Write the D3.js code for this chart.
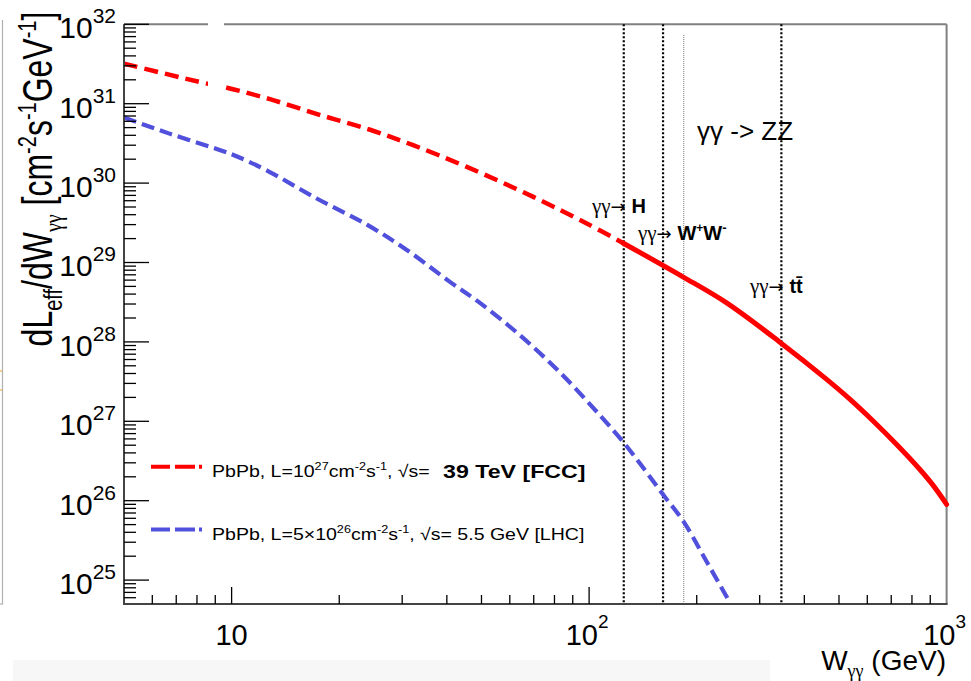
<!DOCTYPE html>
<html>
<head>
<meta charset="utf-8">
<script src="https://cdn.jsdelivr.net/npm/d3@7"></script>
<style>
  html, body { margin: 0; padding: 0; background: #fff; }
  svg { display: block; }
  text { font-family: "Liberation Sans", Arial, Helvetica, sans-serif; fill: #000; }
</style>
</head>
<body>
<svg id="chart" width="971" height="681"></svg>
<script>
// Photon-photon effective luminosity spectra (PbPb), FCC vs LHC
const fccW = [5, 8.3, 9.7, 12.8, 17.7, 24.4, 32.2, 45.5, 69.8, 98.5, 124.7, 183, 242.5, 341, 461, 537, 623, 726, 842, 916, 1000];
const fccL = [3.2e31, 1.84e31, 1.59e31, 1.14e31, 7.2e30, 4.7e30, 3.0e30, 1.6e30, 6.7e29, 3.1e29, 1.75e29, 6.6e28, 3.1e28, 1.0e28, 3.4e27, 1.89e27, 1.01e27, 5.06e26, 2.47e26, 1.57e26, 9.0e25];

const lhcW = [5, 6.7, 9.3, 10.4, 12.6, 17.3, 23.9, 30.9, 40.8, 49.5, 64.1, 83, 107.4, 124.5, 138.8, 160, 184, 213.5, 248];
const lhcL = [6.7e30, 4.2e30, 2.6e30, 2.15e30, 1.43e30, 6.4e29, 3.0e29, 1.44e29, 5.7e28, 3.1e28, 1.21e28, 4.1e27, 1.18e27, 5.5e26, 2.94e26, 1.24e26, 5.4e25, 1.69e25, 5.15e24];

// Production thresholds (GeV): H, W+W-, t tbar, and the ZZ marker
const thresholdW = [125, 161, 345];
const zzW = 184;

const xDomain = [5, 1000];
const yDomain = [5e24, 1e32];
const xMajor = [10, 100, 1000];
const xMajorExp = ["", "2", "3"];
const yExponents = [25, 26, 27, 28, 29, 30, 31, 32];

const svg = d3.select("#chart");
const L = 124, R = 946.6, T = 24.3, B = 604;

const x = d3.scaleLog().domain(xDomain).range([L, R]);
const y = d3.scaleLog().domain(yDomain).range([B, T]);

// helper: text made of runs with super/subscripts
function addRuns(sel, runs) {
  let cur = 0;
  runs.forEach(r => {
    const off = r.shift || 0;
    const ts = sel.append("tspan").attr("dy", off - cur).text(r.t);
    cur = off;
    if (r.size) ts.attr("font-size", r.size);
    if (r.weight) ts.attr("font-weight", r.weight);
    if (r.family) ts.attr("font-family", r.family);
  });
  return sel;
}

// page edge decorations
svg.append("rect").attr("x", 13).attr("y", 660).attr("width", 757).attr("height", 21).attr("fill", "#f7f7f7");
svg.append("line").attr("x1", 2.5).attr("x2", 2.5).attr("y1", 20).attr("y2", 604)
  .attr("stroke", "#b0b0b0").attr("stroke-width", 1.2);
svg.append("line").attr("x1", 0).attr("x2", 3).attr("y1", 604).attr("y2", 604)
  .attr("stroke", "#b0b0b0").attr("stroke-width", 1.2);
[371, 390].forEach(v => svg.append("line").attr("x1", 0).attr("x2", 2).attr("y1", v).attr("y2", v)
  .attr("stroke", "#f0a020").attr("stroke-width", 1));
svg.append("text").attr("x", -13).attr("y", 664).attr("font-size", 24).text("0");

// frame (top/right)
svg.append("line").attr("x1", L).attr("x2", R).attr("y1", T).attr("y2", T).attr("stroke", "#808080").attr("stroke-width", 2);
svg.append("line").attr("x1", R).attr("x2", R).attr("y1", T).attr("y2", B).attr("stroke", "#808080").attr("stroke-width", 2);

// threshold lines
const g = svg.append("g");
g.selectAll("line.thr").data(thresholdW).join("line")
  .attr("class", "thr")
  .attr("x1", d => x(d)).attr("x2", d => x(d))
  .attr("y1", T).attr("y2", B)
  .attr("stroke", "#000").attr("stroke-width", 2.2).attr("stroke-dasharray", "2,2");
g.append("line")
  .attr("x1", x(zzW)).attr("x2", x(zzW)).attr("y1", 35).attr("y2", B)
  .attr("stroke", "#777").attr("stroke-width", 1).attr("stroke-dasharray", "1,1");

// curves
svg.append("clipPath").attr("id", "plotclip").append("rect")
  .attr("x", L).attr("y", T - 4).attr("width", R - L + 6).attr("height", B - T + 4);
const line = d3.line().x(d => x(d[0])).y(d => y(d[1])).curve(d3.curveCatmullRom.alpha(0.5));
const fcc = fccW.map((w, i) => [w, fccL[i]]);
const lhc = lhcW.map((w, i) => [w, lhcL[i]]);
const splitIdx = fccW.indexOf(124.7);
const curves = svg.append("g").attr("clip-path", "url(#plotclip)");
curves.append("path").attr("d", line(lhc)).attr("fill", "none")
  .attr("stroke", "#5050dc").attr("stroke-width", 4.2).attr("stroke-dasharray", "13,6");
curves.append("path").attr("d", line(fcc.slice(0, splitIdx + 1))).attr("fill", "none")
  .attr("stroke", "#ff0000").attr("stroke-width", 4.5).attr("stroke-dasharray", "14,7");
curves.append("path").attr("d", line(fcc.slice(splitIdx))).attr("fill", "none")
  .attr("stroke", "#ff0000").attr("stroke-width", 5).attr("stroke-linecap", "round");

// white patch over top edge
svg.append("rect").attr("x", 208).attr("y", 15).attr("width", 16).attr("height", 80).attr("fill", "#fff");

// axes lines
svg.append("line").attr("x1", L).attr("x2", L).attr("y1", T).attr("y2", B).attr("stroke", "#444").attr("stroke-width", 2);
svg.append("line").attr("x1", L - 1).attr("x2", R + 1).attr("y1", B).attr("y2", B).attr("stroke", "#444").attr("stroke-width", 2);

// y ticks
const yTicks = [];
for (let e = 24; e <= 31; e++) for (let k = 1; k <= 9; k++) {
  const v = k * Math.pow(10, e);
  if (v >= yDomain[0] && v <= yDomain[1]) yTicks.push({ v, major: k === 1 });
}
yTicks.push({ v: 1e32, major: true });
svg.append("g").selectAll("line").data(yTicks).join("line")
  .attr("x1", L).attr("x2", d => L + (d.major ? 25 : 12))
  .attr("y1", d => y(d.v)).attr("y2", d => y(d.v))
  .attr("stroke", "#000").attr("stroke-width", 1.3);

// x ticks
const xTicks = [];
for (let e = 0; e <= 2; e++) for (let k = 1; k <= 9; k++) {
  const v = k * Math.pow(10, e);
  if (v > xDomain[0] && v < xDomain[1]) xTicks.push({ v, major: k === 1 });
}
svg.append("g").selectAll("line").data(xTicks).join("line")
  .attr("x1", d => x(d.v)).attr("x2", d => x(d.v))
  .attr("y1", B).attr("y2", d => B - (d.major ? 17 : 9))
  .attr("stroke", "#000").attr("stroke-width", 1.3);

// y tick labels
yExponents.forEach(e => {
  const t = svg.append("text").attr("x", 116).attr("y", y(Math.pow(10, e)) + 14)
    .attr("text-anchor", "end").attr("font-size", 30);
  addRuns(t, [{ t: "10" }, { t: String(e), shift: -15, size: 21 }]);
});

// x tick labels
xMajor.forEach((v, i) => {
  const t = svg.append("text").attr("x", x(v) + (i ? -2 : 0)).attr("y", 645)
    .attr("text-anchor", "middle").attr("font-size", 29);
  const runs = [{ t: "10" }];
  if (xMajorExp[i]) runs.push({ t: xMajorExp[i], shift: -17, size: 19 });
  addRuns(t, runs);
});

// axis titles
const xt = svg.append("text").attr("x", 946).attr("y", 670).attr("text-anchor", "end").attr("font-size", 28);
addRuns(xt, [{ t: "W" }, { t: "γγ", shift: 7, size: 18, family: "Liberation Serif, serif" }, { t: " (GeV)" }]);

const yt = svg.append("text").attr("transform", "translate(52,179) scale(1.3,1) rotate(-90)")
  .attr("text-anchor", "middle").attr("font-size", 32);
addRuns(yt, [
  { t: "dL" }, { t: "eff", shift: 8, size: 20 }, { t: "/dW" },
  { t: "γγ", shift: 8, size: 20, family: "Liberation Serif, serif" },
  { t: " [cm" }, { t: "-2", shift: -12, size: 20 }, { t: "s" }, { t: "-1", shift: -12, size: 20 },
  { t: "GeV" }, { t: "-1", shift: -12, size: 20 }, { t: "]" }
]);

// legend
const leg = svg.append("g");
leg.append("line").attr("x1", 151).attr("x2", 202).attr("y1", 466.7).attr("y2", 466.7)
  .attr("stroke", "#ff0000").attr("stroke-width", 4).attr("stroke-dasharray", "19,5,20,4");
leg.append("line").attr("x1", 151).attr("x2", 202).attr("y1", 529.5).attr("y2", 529.5)
  .attr("stroke", "#5050dc").attr("stroke-width", 4).attr("stroke-dasharray", "19,5,20,4");
const l1 = leg.append("text").attr("transform", "translate(212,477) scale(1.15,1)").attr("font-size", 17);
addRuns(l1, [
  { t: "PbPb, L=10" }, { t: "27", shift: -7, size: 11 }, { t: "cm" }, { t: "-2", shift: -7, size: 11 },
  { t: "s" }, { t: "-1", shift: -7, size: 11 }, { t: ", √s= " }
]);
leg.append("text").attr("transform", "translate(443,478) scale(1.22,1)")
  .attr("font-size", 19).attr("font-weight", "bold").text("39 TeV [FCC]");
const l2 = leg.append("text").attr("transform", "translate(212,540) scale(1.15,1)").attr("font-size", 17);
addRuns(l2, [
  { t: "PbPb, L=5×10" }, { t: "26", shift: -7, size: 11 }, { t: "cm" }, { t: "-2", shift: -7, size: 11 },
  { t: "s" }, { t: "-1", shift: -7, size: 11 }, { t: ", √s= 5.5 GeV [LHC]" }
]);

// process annotations
function process(xp, yp, runs) {
  const t = svg.append("text").attr("x", xp).attr("y", yp).attr("font-size", 20);
  addRuns(t, runs);
}
const gam = { t: "γγ", family: "Liberation Serif, serif", size: 21 };
const arr = { t: "→ ", size: 18, family: "DejaVu Sans, sans-serif" };
process(592, 213, [gam, arr, { t: "H", weight: "bold" }]);
process(638, 240, [gam, arr, { t: "W", weight: "bold" }, { t: "+", shift: -8, size: 12, weight: "bold" },
  { t: "W", weight: "bold" }, { t: "-", shift: -8, size: 13, weight: "bold" }]);
process(750, 293, [gam, arr, { t: "tt\u0304", weight: "bold" }]);

svg.append("text").attr("x", 697).attr("y", 140).attr("font-size", 26)
  .attr("font-family", "Open Sans, sans-serif").text("γγ -> ZZ");
</script>
</body>
</html>
